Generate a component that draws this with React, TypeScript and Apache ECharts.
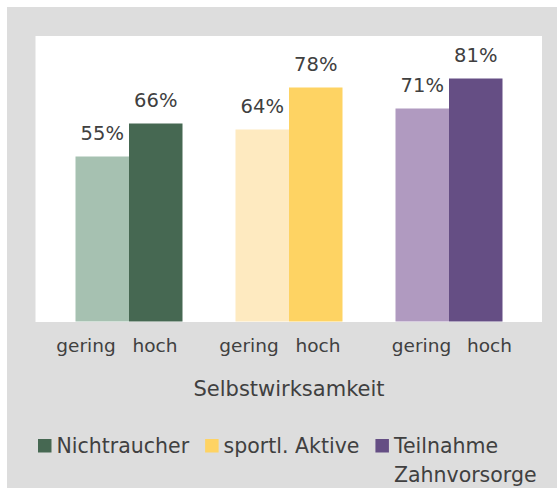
import React, { useEffect, useRef } from 'react';
import * as echarts from 'echarts';

// ---- data ----
const groups = ['Nichtraucher', 'sportl. Aktive', 'Teilnahme\nZahnvorsorge'];
const levelLabels = ['gering', 'hoch'];
const geringValues = [55, 64, 71];
const hochValues = [66, 78, 81];
const axisTitle = 'Selbstwirksamkeit';

// ---- styles ----
const lightColors = ['#a6c1b1', '#feeac0', '#b09ac0'];
const darkColors = ['#466852', '#fed363', '#654e84'];
const labelShift = [-3, -14, 0, -11, 12.5, 0.5];
const textColor = '#404040';
const font = 'DejaVu Sans';

export default function App() {
  const ref = useRef<HTMLDivElement>(null);
  useEffect(() => {
    if (!ref.current) return;
    const chart = echarts.init(ref.current, null, { renderer: 'svg' });
    const tickLabels = groups.flatMap(() => levelLabels);
    const labelAxisData = tickLabels.map((t, i) => {
      const s = labelShift[i];
      const pad = s < 0 ? [0, -2 * s, 0, 0] : [0, 0, 0, 2 * s];
      return { value: t, textStyle: { padding: pad } };
    });
    const barLabel = {
      show: true,
      position: 'top',
      distance: 13,
      formatter: '{c}%',
      fontSize: 19.5,
      fontFamily: font,
      color: textColor,
    };
    chart.setOption({
      animation: false,
      backgroundColor: '#dddddd',
      textStyle: { fontFamily: font, color: textColor },
      graphic: [
        {
          type: 'rect',
          z: -10,
          silent: true,
          shape: { x: 28.5, y: 29, width: 506.5, height: 286 },
          style: { fill: '#ffffff' },
        },
      ],
      grid: { left: 42, right: 28, top: 14.5, height: 300 },
      xAxis: [
        {
          type: 'category',
          data: groups,
          show: false,
        },
        {
          type: 'category',
          data: labelAxisData,
          position: 'bottom',
          axisLine: { show: false },
          axisTick: { show: false },
          axisLabel: { margin: 14, fontSize: 18.5, color: textColor, fontFamily: font },
          name: axisTitle,
          nameLocation: 'middle',
          nameGap: 57,
          nameTextStyle: { fontSize: 21, color: textColor, fontFamily: font },
        },
      ],
      yAxis: { type: 'value', min: 0, max: 100, show: false },
      legend: {
        data: groups.map((g) => ({ name: g, icon: 'rect' })),
        left: 26,
        top: 389.5,
        itemWidth: 13.5,
        itemHeight: 13.5,
        itemGap: 16,
        itemStyle: { borderWidth: 0, opacity: 1 },
        formatter: (name: string) => (name.includes('\n') ? '\n' + name : name),
        textStyle: { fontSize: 20.5, color: textColor, fontFamily: font, lineHeight: 29.5 },
      },
      series: [
        {
          type: 'bar',
          name: 'gering',
          xAxisIndex: 0,
          barWidth: 53.5,
          barGap: '0%',
          data: geringValues.map((v, i) => ({ value: v, itemStyle: { color: lightColors[i] } })),
          label: barLabel,
        },
        {
          type: 'bar',
          name: 'hoch',
          xAxisIndex: 0,
          barWidth: 53.5,
          barGap: '0%',
          data: hochValues.map((v, i) => ({ value: v, itemStyle: { color: darkColors[i] } })),
          label: barLabel,
        },
        ...groups.map((g, i) => ({
          type: 'scatter',
          name: g,
          xAxisIndex: 0,
          data: [],
          itemStyle: { color: darkColors[i], opacity: 1 },
        })),
      ],
    });
    return () => chart.dispose();
  }, []);
  return (
    <div
      ref={ref}
      style={{ position: 'fixed', left: 7, top: 7, width: 550, height: 481 }}
    />
  );
}
